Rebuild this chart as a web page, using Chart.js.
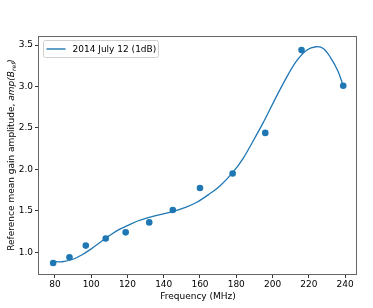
<!DOCTYPE html>
<html>
<head>
<meta charset="utf-8">
<script src="https://cdn.jsdelivr.net/npm/chart.js@4"></script>
<style>
  html, body { margin: 0; padding: 0; background: #fff; }
  #wrap { width: 373px; height: 308px; }
</style>
</head>
<body>
<div id="wrap"><canvas id="gainChart" width="373" height="308"></canvas></div>
<script>
// measured gain amplitudes (dots)
const measFreq = [79, 88, 97, 108, 119, 132, 145, 160, 178, 196, 216, 239];
const measAmp = [0.87, 0.94, 1.08, 1.165, 1.24, 1.36, 1.51, 1.775, 1.95, 2.44, 3.44, 3.01];

// fitted curve
const fitFreq = [79, 84, 90, 95, 100, 105, 110, 115, 120, 126, 132, 138, 145, 152, 158, 165, 171, 178, 184, 189, 195, 201, 207, 213, 219, 224, 228, 232, 236, 239];
const fitAmp = [0.89, 0.885, 0.915, 0.97, 1.04, 1.12, 1.20, 1.27, 1.32, 1.38, 1.42, 1.455, 1.49, 1.54, 1.60, 1.70, 1.80, 1.96, 2.14, 2.33, 2.57, 2.83, 3.08, 3.30, 3.44, 3.48, 3.46, 3.35, 3.19, 3.01];

const xTicks = [80, 100, 120, 140, 160, 180, 200, 220, 240];
const yTicks = [1.0, 1.5, 2.0, 2.5, 3.0, 3.5];

const seriesLabel = '2014 July 12 (1dB)';
const blue = '#1f77b4';
const FONT = 'DejaVu Sans';
const FS = 9;

// box around the plot + legend inside it
const framePlugin = {
    id: 'frame',
    afterDraw(chart) {
        const ctx = chart.ctx;
        const a = chart.chartArea;
        ctx.save();
        ctx.strokeStyle = '#666';
        ctx.lineWidth = 1;
        ctx.strokeRect(Math.round(a.left) - 0.5, Math.round(a.top) + 0.5, Math.round(a.right - a.left), Math.round(a.bottom - a.top));

        // legend
        const lx = a.left + 4.5, ly = a.top + 4.5, lw = 115, lh = 17;
        ctx.beginPath();
        ctx.roundRect(lx, ly, lw, lh, 2);
        ctx.fillStyle = 'rgba(255,255,255,0.8)';
        ctx.fill();
        ctx.strokeStyle = '#d0d0d0';
        ctx.stroke();
        ctx.beginPath();
        ctx.moveTo(lx + 3, ly + lh / 2);
        ctx.lineTo(lx + 22, ly + lh / 2);
        ctx.strokeStyle = blue;
        ctx.lineWidth = 1.4;
        ctx.stroke();
        ctx.fillStyle = '#000';
        ctx.font = FS + 'px "' + FONT + '"';
        ctx.textBaseline = 'middle';
        ctx.fillText(chart.data.datasets[0].label, lx + 29, ly + lh / 2 + 0.5);

        // y axis title with the subscript
        ctx.translate(12, (a.top + a.bottom) / 2);
        ctx.rotate(-Math.PI / 2);
        const parts = [
            { t: 'Reference mean gain amplitude, ', f: FS + 'px "' + FONT + '"', dy: 0 },
            { t: 'amp(B', f: 'oblique ' + FS + 'px "' + FONT + '"', dy: 0 },
            { t: 'ref', f: 'oblique 6px "' + FONT + '"', dy: 2 },
            { t: ')', f: 'oblique ' + FS + 'px "' + FONT + '"', dy: 0 }
        ];
        let total = 0;
        parts.forEach(p => { ctx.font = p.f; p.w = ctx.measureText(p.t).width; total += p.w; });
        let x = -total / 2;
        ctx.textBaseline = 'middle';
        parts.forEach(p => {
            ctx.font = p.f;
            ctx.fillText(p.t, x, p.dy);
            x += p.w;
        });
        ctx.restore();
    }
};

const ctx = document.getElementById('gainChart').getContext('2d');

new Chart(ctx, {
    type: 'scatter',
    data: {
        datasets: [
            {
                label: seriesLabel,
                data: fitFreq.map((f, i) => ({ x: f, y: fitAmp[i] })),
                showLine: true,
                borderColor: blue,
                borderWidth: 1.3,
                pointRadius: 0,
                tension: 0.35,
                fill: false
            },
            {
                label: '',
                data: measFreq.map((f, i) => ({ x: f, y: measAmp[i] })),
                showLine: false,
                pointRadius: 3.3,
                pointBackgroundColor: blue,
                pointBorderWidth: 0
            }
        ]
    },
    options: {
        responsive: false,
        animation: false,
        devicePixelRatio: 1,
        layout: { padding: { top: 36, right: 16, left: 0, bottom: 0 } },
        plugins: {
            legend: { display: false },
            tooltip: { enabled: false }
        },
        scales: {
            x: {
                type: 'linear',
                min: 71.2,
                max: 246.6,
                afterBuildTicks: axis => { axis.ticks = xTicks.map(v => ({ value: v })); },
                afterFit: axis => { axis.height = 34; },
                ticks: { color: '#000', font: { family: FONT, size: FS }, padding: 1, maxRotation: 0 },
                grid: { drawOnChartArea: false, tickLength: 4, color: '#333' },
                border: { display: false },
                title: { display: true, text: 'Frequency (MHz)', color: '#000', font: { family: FONT, size: FS }, padding: { top: 0, bottom: 6 } }
            },
            y: {
                min: 0.737,
                max: 3.61,
                afterBuildTicks: axis => { axis.ticks = yTicks.map(v => ({ value: v })); },
                afterFit: axis => { axis.width = 39; },
                ticks: { color: '#000', font: { family: FONT, size: FS }, padding: 2, callback: v => v.toFixed(1) },
                grid: { drawOnChartArea: false, tickLength: 4, color: '#333' },
                border: { display: false }
            }
        }
    },
    plugins: [framePlugin]
});
</script>
</body>
</html>
